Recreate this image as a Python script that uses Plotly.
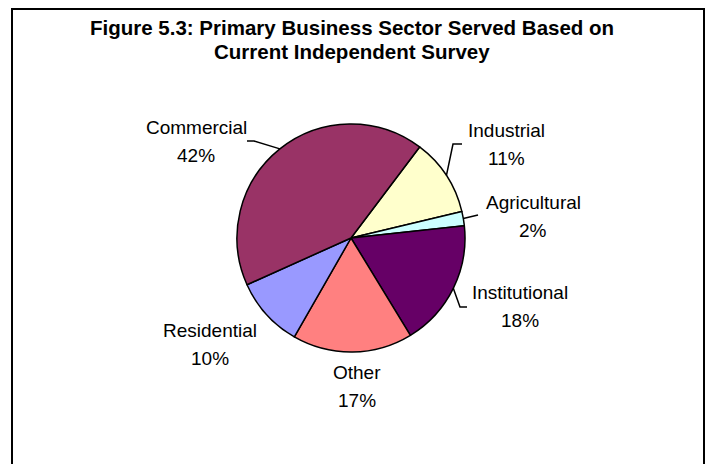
import math
import plotly.graph_objects as go

# Survey shares by primary business sector (percent), in clockwise drawing order
sectors = ["Industrial", "Agricultural", "Institutional", "Other", "Residential", "Commercial"]
shares = [11, 2, 18, 17, 10, 42]
colors = ["#FFFFCC", "#CCFFFF", "#660066", "#FF8080", "#9999FF", "#993366"]

title_lines = ["Figure 5.3: Primary Business Sector Served Based on",
               "Current Independent Survey"]

W, H = 712, 464
CX, CY, R = 351, 238, 114          # pie centre and radius in pixels
ROTATION = 37                      # degrees clockwise from 12 o'clock

# label text centres (pixels) and leader-line elbow/end points
label_pos = {
    "Commercial": (196, 127),
    "Industrial": (506, 130),
    "Agricultural": (533, 202),
    "Institutional": (520, 292),
    "Residential": (210, 330),
    "Other": (357, 372),
}
leaders = {
    "Commercial": ((254, 141), (247, 141)),
    "Industrial": ((453, 144), (462, 144)),
    "Agricultural": ((478, 215), (478, 215)),
    "Institutional": ((460, 307), (467, 307)),
}
LINE_GAP = 28
FONT = "Liberation Sans, Arial, sans-serif"

fig = go.Figure()
fig.add_trace(go.Pie(
    labels=sectors, values=shares, sort=False, direction="clockwise",
    rotation=ROTATION, textinfo="none", hoverinfo="label+percent",
    marker=dict(colors=colors, line=dict(color="black", width=1.5)),
    domain=dict(x=[(CX - R) / W, (CX + R) / W],
                y=[(H - CY - R) / H, (H - CY + R) / H]),
    showlegend=False,
))

annotations = []
shapes = []

# outer frame
shapes.append(dict(type="rect", xref="x", yref="y", x0=12, y0=9, x1=704, y1=480,
                   line=dict(color="black", width=2), layer="below"))

# title
for i, line in enumerate(title_lines):
    annotations.append(dict(x=352, y=27 + i * 24, xref="x", yref="y", text=f"<b>{line}</b>",
                            showarrow=False, xanchor="center", yanchor="middle",
                            font=dict(family=FONT, size=20.5, color="black")))

total = sum(shares)
cum = 0
for name, val in zip(sectors, shares):
    mid = math.radians(ROTATION + (cum + val / 2) / total * 360)
    cum += val
    lx, ly = label_pos[name]
    for j, txt in enumerate([name, f"{round(val / total * 100)}%"]):
        annotations.append(dict(x=lx, y=ly + j * LINE_GAP, xref="x", yref="y", text=txt,
                                showarrow=False, xanchor="center", yanchor="middle",
                                font=dict(family=FONT, size=19, color="black")))
    if name in leaders:
        ex, ey = CX + R * math.sin(mid), CY - R * math.cos(mid)
        (bx, by), (tx, ty) = leaders[name]
        shapes.append(dict(type="path", xref="x", yref="y",
                           path=f"M {ex:.1f},{ey:.1f} L {bx},{by} L {tx},{ty}",
                           line=dict(color="black", width=1.5)))

fig.update_layout(
    width=W, height=H, margin=dict(l=0, r=0, t=0, b=0),
    paper_bgcolor="white", plot_bgcolor="white",
    xaxis=dict(range=[0, W], visible=False, fixedrange=True),
    yaxis=dict(range=[H, 0], visible=False, fixedrange=True),
    annotations=annotations, shapes=shapes,
)

fig.write_html("out.html")
